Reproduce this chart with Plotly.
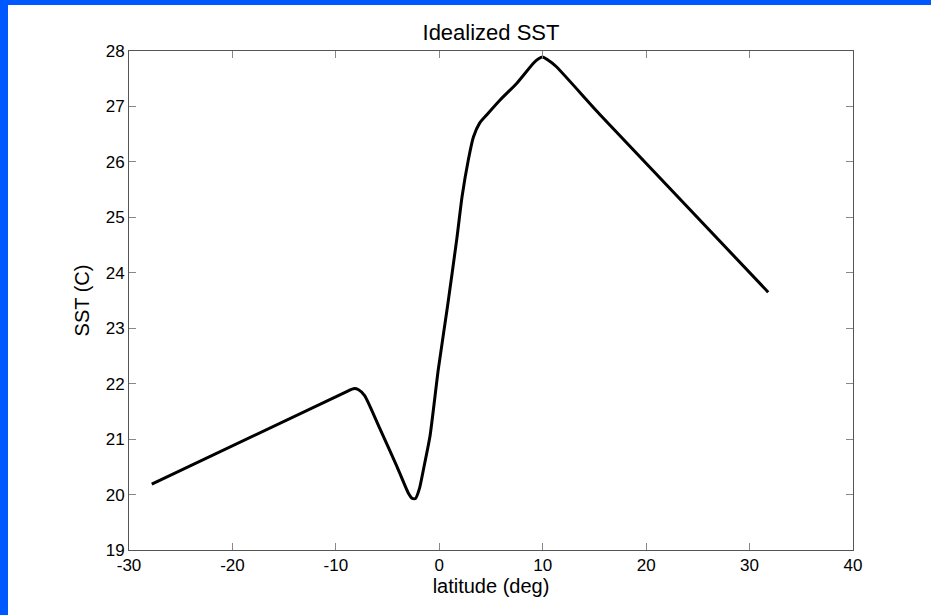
import plotly.graph_objects as go

# Data
latitude = [-27.8, -8.8, -8.3, -7.8, -7.2, -5.7, -4.1, -3.0, -2.6, -2.3, -1.9, -1.5,
            -0.9, -0.1, 0.8, 1.7, 2.2, 2.8, 3.3, 3.9, 4.6, 5.9, 7.5, 9.1, 9.6, 10.0,
            10.4, 11.3, 15.5, 31.8]
sst = [20.19, 21.87, 21.91, 21.89, 21.78, 21.17, 20.51, 20.03, 19.93, 19.93, 20.12, 20.48,
       21.05, 22.25, 23.4, 24.62, 25.37, 26.03, 26.45, 26.70, 26.85, 27.12, 27.42, 27.78, 27.86, 27.89,
       27.85, 27.72, 26.86, 23.65]

x_ticks = [-30, -20, -10, 0, 10, 20, 30, 40]
y_ticks = [19, 20, 21, 22, 23, 24, 25, 26, 27, 28]

FONT = "Liberation Sans, Arial, Helvetica, sans-serif"
W, H = 931, 615
ML, MR, MT, MB = 129, 78, 51, 65
pw, ph = W - ML - MR, H - MT - MB

def px_x(p):
    return (p - ML) / pw

def px_y(p):
    return (H - MB - p) / ph

fig = go.Figure()
fig.add_trace(go.Scatter(x=latitude, y=sst, mode="lines",
                         line=dict(color="black", width=3, shape="spline", smoothing=0.5),
                         showlegend=False, hoverinfo="skip"))

blue = "rgb(0,88,255)"
fig.add_shape(type="rect", xref="paper", yref="paper", layer="below",
              x0=px_x(0), x1=px_x(8), y0=px_y(H), y1=px_y(0),
              fillcolor=blue, line=dict(width=0))
fig.add_shape(type="rect", xref="paper", yref="paper", layer="below",
              x0=px_x(0), x1=px_x(W), y0=px_y(5), y1=px_y(0),
              fillcolor=blue, line=dict(width=0))

axis_common = dict(showgrid=False, zeroline=False, showline=True, linecolor="#555",
                   linewidth=1, mirror="ticks", ticks="inside", ticklen=7,
                   tickcolor="#888", tickwidth=1,
                   tickfont=dict(family=FONT, size=17, color="black"))

fig.update_xaxes(range=[-30, 40], tickvals=x_ticks, ticktext=[str(v) for v in x_ticks],
                 title=dict(text="latitude (deg)", font=dict(family=FONT, size=20, color="black"),
                            standoff=0),
                 **axis_common)
fig.update_yaxes(range=[19, 28], tickvals=y_ticks, ticktext=[str(v) for v in y_ticks],
                 title=dict(text="SST (C)", font=dict(family=FONT, size=20, color="black"),
                            standoff=10),
                 **axis_common)

fig.update_layout(
    width=W, height=H,
    margin=dict(l=ML, r=MR, t=MT, b=MB, pad=0),
    paper_bgcolor="white", plot_bgcolor="white",
    title=dict(text="Idealized SST", x=(ML + pw / 2) / W, xanchor="center",
               y=1 - 32 / H, yanchor="middle",
               font=dict(family=FONT, size=22, color="black")),
)

fig.write_html("out.html", config={"displayModeBar": False},
               post_script="document.body.style.margin='0';")
